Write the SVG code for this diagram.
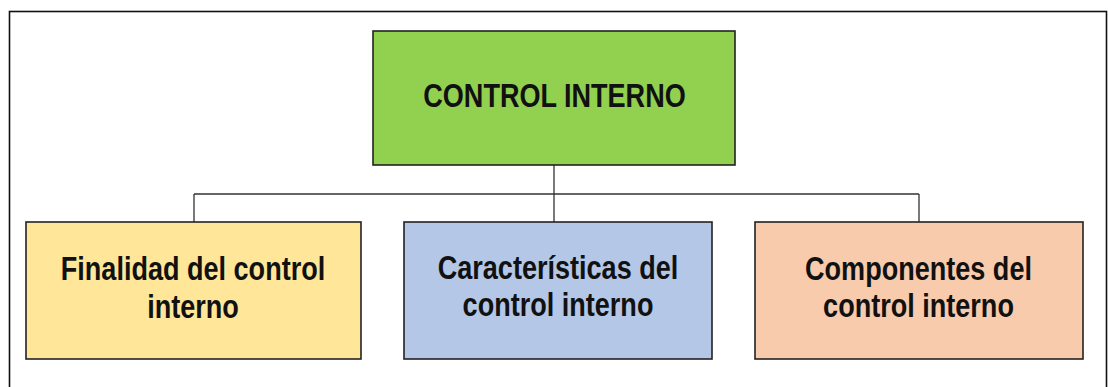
<svg xmlns="http://www.w3.org/2000/svg" width="1108" height="387" viewBox="0 0 1108 387">
<style>
.box{stroke:#222;stroke-width:1.6}
.lbl{font-family:"Liberation Sans",Arial,sans-serif;font-weight:bold;font-size:33px;fill:#111;text-anchor:middle}
.con{stroke:#333;stroke-width:1.3;fill:none}
</style>
<rect x="0" y="0" width="1108" height="387" fill="#fff"/>
<rect id="frame" x="9.5" y="11.5" width="1097" height="400" fill="none" stroke="#111" stroke-width="1.6"/>
<g id="connectors">
<path class="con" d="M554 165V194M194 194H919M194 194V222M554 194V222M919 194V222"/>
</g>
<g id="control-interno">
<rect class="box" x="373" y="31" width="362" height="134" fill="#92d050"/>
<text class="lbl" transform="translate(554.5,107) scale(0.82,1)">CONTROL INTERNO</text>
</g>
<g id="finalidad">
<rect class="box" x="26" y="222" width="335" height="137" fill="#ffe699"/>
<text class="lbl" transform="translate(193,280) scale(0.82,1)">Finalidad del control</text>
<text class="lbl" transform="translate(193,318) scale(0.82,1)">interno</text>
</g>
<g id="caracteristicas">
<rect class="box" x="404" y="222" width="308" height="137" fill="#b4c7e7"/>
<text class="lbl" transform="translate(558,279) scale(0.82,1)">Características del</text>
<text class="lbl" transform="translate(558,316) scale(0.82,1)">control interno</text>
</g>
<g id="componentes">
<rect class="box" x="755" y="222" width="328" height="137" fill="#f8cbad"/>
<text class="lbl" transform="translate(918.5,280) scale(0.82,1)">Componentes del</text>
<text class="lbl" transform="translate(918.5,317) scale(0.82,1)">control interno</text>
</g>
</svg>
